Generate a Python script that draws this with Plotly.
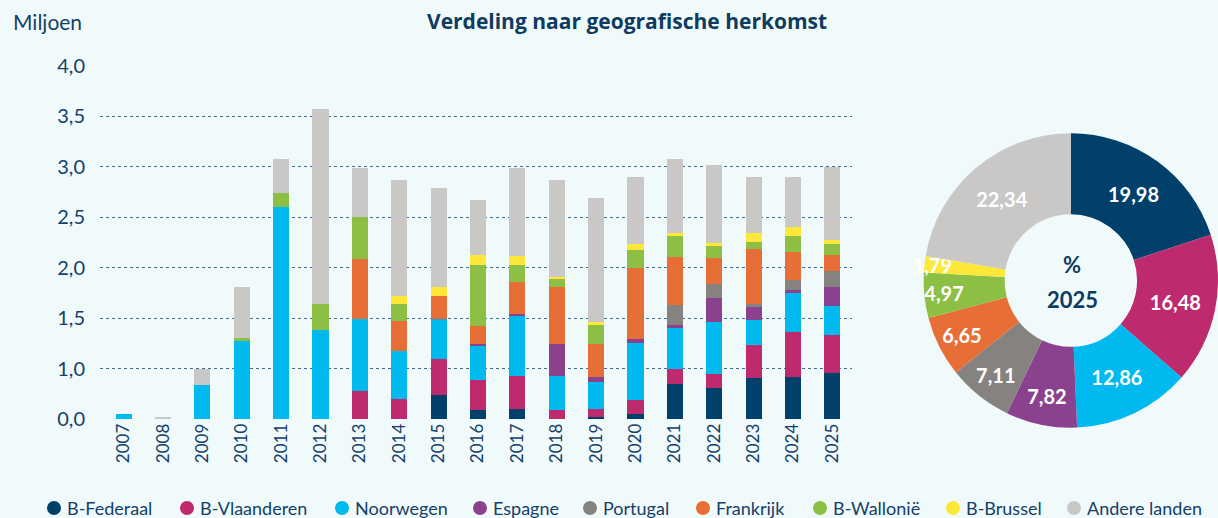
import plotly.graph_objects as go

years = [str(y) for y in range(2007, 2026)]

series_names = ["B-Federaal", "B-Vlaanderen", "Noorwegen", "Espagne", "Portugal",
                "Frankrijk", "B-Wallonië", "B-Brussel", "Andere landen"]
colors = ["#00406a", "#be2a6e", "#00b9ef", "#8a428f", "#86827f",
          "#e86e37", "#8dbf45", "#fde83a", "#c9c8c6"]

b_federaal   = [0, 0, 0, 0, 0, 0, 0, 0, 0.240, 0.092, 0.102, 0, 0.023, 0.053, 0.349, 0.310, 0.408, 0.418, 0.458]
b_vlaanderen = [0, 0, 0, 0, 0, 0, 0.280, 0.201, 0.356, 0.297, 0.326, 0.092, 0.079, 0.138, 0.148, 0.138, 0.327, 0.445, 0.375]
noorwegen    = [0.053, 0, 0.339, 0.774, 2.098, 0.883, 0.711, 0.474, 0.389, 0.346, 0.593, 0.336, 0.267, 0.563, 0.405, 0.514, 0.247, 0.385, 0.287]
espagne      = [0, 0, 0, 0, 0, 0, 0, 0, 0, 0.010, 0.020, 0.316, 0.049, 0.040, 0.030, 0.237, 0.128, 0.030, 0.188]
portugal     = [0, 0, 0, 0, 0, 0, 0, 0, 0.020, 0, 0, 0, 0, 0, 0.198, 0.138, 0.030, 0.099, 0.158]
frankrijk    = [0, 0, 0, 0, 0, 0, 0.593, 0.297, 0.214, 0.177, 0.316, 0.564, 0.326, 0.701, 0.474, 0.257, 0.543, 0.276, 0.158]
b_wallonie   = [0, 0, 0, 0.030, 0.138, 0.257, 0.416, 0.168, 0, 0.603, 0.168, 0.079, 0.188, 0.178, 0.208, 0.119, 0.069, 0.159, 0.109]
b_brussel    = [0, 0, 0, 0, 0, 0, 0, 0.079, 0.089, 0.099, 0.092, 0.020, 0.030, 0.060, 0.029, 0.029, 0.089, 0.089, 0.039]
andere       = [0, 0.023, 0.155, 0.504, 0.336, 1.927, 0.484, 1.146, 0.979, 0.543, 0.867, 0.959, 1.225, 0.662, 0.731, 0.771, 0.554, 0.494, 0.721]

series_values = [b_federaal, b_vlaanderen, noorwegen, espagne, portugal,
                 frankrijk, b_wallonie, b_brussel, andere]

y_tickvals = [0, 0.5, 1.0, 1.5, 2.0, 2.5, 3.0, 3.5]
y_ticktext = ["0,0", "1,0", "1,5", "2,0", "2,5", "3,0", "3,5", "4,0"]

pie_2025 = [19.98, 16.48, 12.86, 7.82, 7.11, 6.65, 4.97, 1.79, 22.34]
pie_text = [f"{v:.2f}".replace(".", ",") for v in pie_2025]

W, H = 1218, 518
FONT = "Lato"
NAVY = "#14406a"
BG = "#f1fafa"

fig = go.Figure()

for name, vals, col in zip(series_names, series_values, colors):
    fig.add_trace(go.Bar(x=years, y=vals, name=name, marker=dict(color=col, line=dict(width=0)),
                         width=0.41, showlegend=False, hoverinfo="x+y+name"))

fig.add_trace(go.Pie(values=pie_2025, labels=series_names, text=pie_text, textinfo="text",
                     marker=dict(colors=colors, line=dict(width=0)), sort=False,
                     direction="clockwise", rotation=0, hole=0.45,
                     textposition="inside", insidetextorientation="horizontal",
                     textfont=dict(family=FONT, size=20, color="white", weight="bold"),
                     domain=dict(x=[0.7583, 1.0], y=[0.172, 0.745]), showlegend=False,
                     automargin=False))

fig.update_layout(
    width=W, height=H,
    barmode="stack",
    paper_bgcolor=BG, plot_bgcolor=BG,
    margin=dict(l=0, r=0, t=0, b=0, pad=0, autoexpand=False),
    font=dict(family=FONT, color=NAVY),
    uniformtext=dict(mode="show", minsize=20),
    xaxis=dict(type="category", range=[-0.6, 18.5], domain=[100 / W, 852 / W],
               showgrid=False, zeroline=False, showline=False, ticks="", automargin=False,
               tickangle=-90, tickfont=dict(size=17, color=NAVY)),
    yaxis=dict(range=[0, 3.5], domain=[(H - 419.3) / H, (H - 65.5) / H],
               tickvals=y_tickvals, ticktext=y_ticktext, automargin=False,
               tickfont=dict(size=20, color=NAVY), ticklabelstandoff=14,
               showgrid=True, gridcolor="#3f6d93", griddash="dot", gridwidth=1,
               zeroline=False, showline=False, ticks=""),
)

annotations = [
    dict(text="Miljoen", x=11 / W, y=1 - 21 / H, xref="paper", yref="paper",
         xanchor="left", yanchor="middle", showarrow=False,
         font=dict(size=21, color=NAVY, family=FONT)),
    dict(text="<b>Verdeling naar geografische herkomst</b>", x=627 / W, y=1 - 21 / H,
         xref="paper", yref="paper", xanchor="center", yanchor="middle", showarrow=False,
         font=dict(size=21, color="#0e3b60", family="Open Sans")),
    dict(text="<b>%</b>", x=1072 / W, y=1 - 264 / H, xref="paper", yref="paper",
         xanchor="center", yanchor="middle", showarrow=False,
         font=dict(size=22, color="#0e3b60", family=FONT)),
    dict(text="<b>2025</b>", x=1072 / W, y=1 - 299 / H, xref="paper", yref="paper",
         xanchor="center", yanchor="middle", showarrow=False,
         font=dict(size=22, color="#0e3b60", family=FONT)),
]

# manual legend with round markers
legend_cx = [54, 187, 342, 480, 590, 703, 820, 953, 1074]
legend_cy = 508
shapes = []
for name, col, cx in zip(series_names, colors, legend_cx):
    shapes.append(dict(type="circle", xref="paper", yref="paper",
                       x0=(cx - 7) / W, x1=(cx + 7) / W,
                       y0=1 - (legend_cy + 7) / H, y1=1 - (legend_cy - 7) / H,
                       fillcolor=col, line=dict(width=0)))
    annotations.append(dict(text=name, x=(cx + 11) / W, y=1 - legend_cy / H,
                            xref="paper", yref="paper", xanchor="left", yanchor="middle",
                            showarrow=False, font=dict(size=18, color=NAVY, family=FONT)))

fig.update_layout(annotations=annotations, shapes=shapes)

fig.write_html("out.html", config={"displayModeBar": False},
               post_script="document.body.style.margin='0';document.body.style.overflow='hidden';")
